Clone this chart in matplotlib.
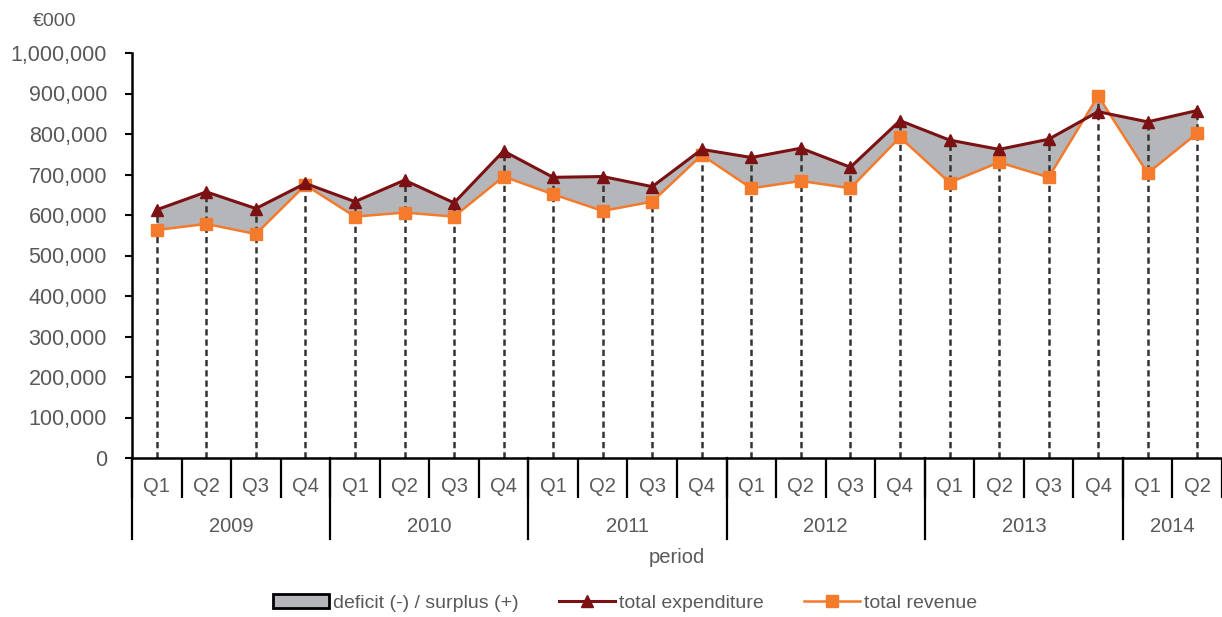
import numpy as np
import matplotlib.pyplot as plt
from matplotlib.ticker import FuncFormatter, MultipleLocator
from matplotlib.patches import Patch
from matplotlib.lines import Line2D

plt.rcParams['font.family'] = ['Liberation Sans', 'DejaVu Sans']

# quarterly data, EUR thousand
quarters = ['Q1', 'Q2', 'Q3', 'Q4'] * 5 + ['Q1', 'Q2']
years = ['2009', '2010', '2011', '2012', '2013', '2014']
quarters_per_year = [4, 4, 4, 4, 4, 2]
expenditure = [613000, 657000, 616000, 678000,
               633000, 686000, 630000, 758000,
               693000, 695000, 670000, 762000,
               742000, 765000, 718000, 833000,
               785000, 762000, 787000, 855000,
               830000, 858000]
revenue = [563000, 578000, 553000, 674000,
           596000, 606000, 596000, 695000,
           651000, 610000, 633000, 748000,
           666000, 684000, 666000, 792000,
           680000, 730000, 693000, 894000,
           703000, 802000]

exp_color = '#7b1113'
rev_color = '#f47a2c'
fill_color = '#b5b6b9'
text_color = '#595959'

x = np.arange(len(quarters))
exp = np.array(expenditure)
rev = np.array(revenue)

fig = plt.figure(figsize=(12.22, 6.17), dpi=100)
ax = fig.add_axes([132 / 1222, 159 / 617, 1090 / 1222, 405 / 617])

ax.fill_between(x, rev, exp, color=fill_color, linewidth=0, zorder=1)
ax.vlines(x, 0, np.maximum(exp, rev), colors='#333333', linestyles=(0, (2.5, 1.6)),
          linewidth=1.8, zorder=2)
ax.plot(x, exp, color=exp_color, lw=2.2, marker='^', ms=9, zorder=4)
ax.plot(x, rev, color=rev_color, lw=1.8, marker='s', ms=8, zorder=3)

ax.set_xlim(-0.5, len(quarters) - 0.5)
ax.set_ylim(0, 1000000)
ax.yaxis.set_major_locator(MultipleLocator(100000))
ax.yaxis.set_major_formatter(FuncFormatter(lambda v, p: f'{int(v):,}'))
ax.tick_params(axis='y', labelsize=15.5, labelcolor=text_color, length=5, width=1.5,
               direction='out', pad=13)

for side in ['top', 'right']:
    ax.spines[side].set_visible(False)
ax.spines['left'].set_linewidth(1.8)
ax.spines['bottom'].set_linewidth(1.8)

# quarter labels and separators
ax.set_xticks(x)
ax.set_xticklabels(quarters)
ax.tick_params(axis='x', which='major', length=0, labelsize=14.5, labelcolor=text_color, pad=14)
ax.set_xticks(np.arange(-0.5, len(quarters), 1), minor=True)
ax.tick_params(axis='x', which='minor', length=29, width=1.6, direction='out')

# year labels and separators
trans = ax.get_xaxis_transform()
start = 0
for yr, n in zip(years, quarters_per_year):
    ax.plot([start - 0.5, start - 0.5], [0, -0.2], transform=trans, color='black',
            lw=1.6, clip_on=False)
    ax.text(start + (n - 1) / 2, -0.168, yr, transform=trans, ha='center', va='center',
            fontsize=14.5, color=text_color)
    start += n

ax.text(0.5, -0.245, 'period', transform=ax.transAxes, ha='center', va='center',
        fontsize=14.5, color=text_color)
fig.text(55 / 1222, 1 - 21 / 617, '€000', fontsize=14, color=text_color, ha='center', va='center')

handles = [Patch(facecolor=fill_color, edgecolor='black', linewidth=2),
           Line2D([], [], color=exp_color, lw=2.2, marker='^', ms=9),
           Line2D([], [], color=rev_color, lw=1.8, marker='s', ms=8)]
labels = ['deficit (-) / surplus (+)', 'total expenditure', 'total revenue']
leg = fig.legend(handles, labels, loc='center', bbox_to_anchor=(625 / 1222, 1 - 603 / 617),
                 ncol=3, frameon=False, fontsize=14, handlelength=2.9, handletextpad=0.2,
                 columnspacing=2.05, handleheight=0.7)
for t in leg.get_texts():
    t.set_color(text_color)

fig.savefig('out.png', dpi=100)
